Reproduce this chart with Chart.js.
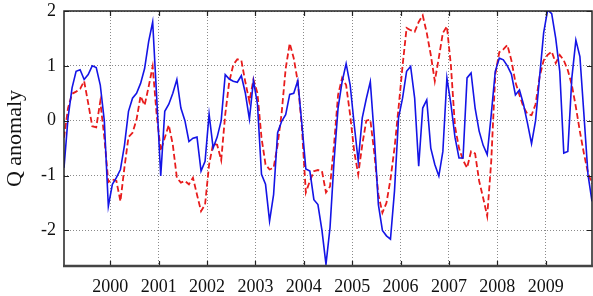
<!DOCTYPE html>
<html>
<head>
<meta charset="utf-8">
<script src="https://cdn.jsdelivr.net/npm/chart.js@4/dist/chart.umd.min.js"></script>
<style>
html,body{margin:0;padding:0;background:#fff;}
canvas{display:block;}
</style>
</head>
<body>
<canvas id="c" width="593" height="296"></canvas>
<script>
// Monthly series, Jan 1999 .. Dec 2009
const startYear = 1999;
const yearTicks = [2000, 2001, 2002, 2003, 2004, 2005, 2006, 2007, 2008, 2009];
const valueTicks = [-2, -1, 0, 1, 2];

const blueQ = [
  -0.86, 0.05, 0.60, 0.90, 0.93, 0.75, 0.84, 1.00, 0.97, 0.65, 0.00, -1.56,
  -1.16, -1.04, -0.89, -0.45, 0.17, 0.41, 0.50, 0.68, 0.95, 1.44, 1.80, 0.42,
  -1.01, 0.17, 0.30, 0.50, 0.75, 0.23, 0.00, -0.38, -0.32, -0.30, -0.92, -0.74,
  0.12, -0.50, -0.30, 0.00, 0.84, 0.76, 0.72, 0.70, 0.82, 0.50, 0.03, 0.73,
  0.30, -0.98, -1.16, -1.83, -1.35, -0.22, -0.01, 0.11, 0.48, 0.50, 0.73, -0.05,
  -0.88, -0.92, -1.44, -1.53, -2.00, -2.62, -1.95, -0.74, 0.23, 0.71, 1.04, 0.65,
  -0.07, -0.74, 0.05, 0.40, 0.71, -0.31, -1.53, -2.00, -2.10, -2.16, -1.28, 0.05,
  0.41, 0.90, 0.99, 0.41, -0.83, 0.23, 0.38, -0.50, -0.80, -1.01, -0.56, 0.78,
  0.30, -0.30, -0.68, -0.68, 0.78, 0.87, 0.23, -0.19, -0.45, -0.62, 0.11, 0.90,
  1.14, 1.11, 1.00, 0.85, 0.47, 0.56, 0.30, -0.05, -0.42, 0.00, 0.80, 1.60,
  2.02, 1.95, 1.50, 0.90, -0.59, -0.56, 0.78, 1.47, 1.17, 0.11, -0.98, -1.47
];

const redQ = [
  -0.31, 0.23, 0.49, 0.53, 0.58, 0.72, 0.32, -0.10, -0.12, 0.35, -0.30, -1.12,
  -1.07, -1.10, -1.47, -0.85, -0.30, -0.22, 0.02, 0.45, 0.28, 0.62, 0.99, 0.10,
  -0.55, -0.31, -0.08, -0.44, -1.04, -1.13, -1.10, -1.16, -1.04, -1.35, -1.65, -1.53,
  -0.80, -0.42, -0.44, -0.72, 0.11, 0.71, 1.02, 1.12, 1.10, 0.70, 0.35, 0.75,
  0.50, -0.31, -0.80, -0.89, -0.86, -0.44, 0.14, 0.95, 1.41, 1.14, 0.71, -0.10,
  -1.31, -1.10, -0.92, -0.90, -0.92, -1.31, -1.20, -0.44, 0.47, 0.78, 0.65, 0.10,
  -0.56, -0.98, -0.44, 0.00, 0.02, -0.60, -1.35, -1.68, -1.50, -1.07, -0.50, 0.23,
  1.00, 1.69, 1.65, 1.62, 1.80, 1.92, 1.60, 1.20, 0.72, 1.15, 1.60, 1.72,
  1.00, -0.10, -0.50, -0.72, -0.86, -0.56, -0.60, -1.10, -1.41, -1.74, -0.74, 0.84,
  1.25, 1.30, 1.38, 1.10, 0.70, 0.47, 0.25, 0.12, 0.10, 0.30, 0.80, 1.10,
  1.20, 1.26, 1.05, 1.20, 1.10, 0.92, 0.65, 0.25, -0.20, -0.60, -0.95, -1.15
];

const months = blueQ.map((_, i) => startYear + (i + 0.5) / 12);

const FONT = "'Liberation Serif', 'DejaVu Serif', serif";

const framePlugin = {
  id: 'frame',
  afterDraw(chart) {
    const { ctx, chartArea: a, scales: { x, y } } = chart;
    ctx.save();
    ctx.strokeStyle = '#222';
    ctx.lineWidth = 1.2;
    ctx.beginPath();
    yearTicks.forEach(v => {
      const px = Math.round(x.getPixelForValue(v)) + 0.5;
      ctx.moveTo(px, a.bottom); ctx.lineTo(px, a.bottom - 5);
      ctx.moveTo(px, a.top); ctx.lineTo(px, a.top + 5);
    });
    valueTicks.forEach(v => {
      const py = Math.round(y.getPixelForValue(v)) + 0.5;
      ctx.moveTo(a.left, py); ctx.lineTo(a.left + 5, py);
      ctx.moveTo(a.right, py); ctx.lineTo(a.right - 5, py);
    });
    ctx.stroke();
    ctx.lineWidth = 1.5;
    ctx.strokeStyle = '#222';
    ctx.strokeRect(a.left, a.top, a.right - a.left, a.bottom - a.top);
    ctx.lineWidth = 2.5;
    ctx.strokeStyle = '#444';
    ctx.beginPath();
    ctx.moveTo(a.left - 1, a.bottom); ctx.lineTo(a.right + 1, a.bottom);
    ctx.stroke();
    ctx.restore();
  }
};

new Chart(document.getElementById('c'), {
  type: 'line',
  data: {
    datasets: [
      {
        label: 'blue',
        data: months.map((m, i) => ({ x: m, y: blueQ[i] })),
        borderColor: '#1414e6',
        borderWidth: 1.6,
        pointRadius: 0,
        tension: 0,
        fill: false
      },
      {
        label: 'red',
        data: months.map((m, i) => ({ x: m, y: redQ[i] })),
        borderColor: '#e81c1c',
        borderWidth: 1.8,
        borderDash: [6, 3],
        pointRadius: 0,
        tension: 0,
        fill: false
      }
    ]
  },
  options: {
    responsive: false,
    animation: false,
    devicePixelRatio: 1,
    layout: { padding: { top: 11, right: 1, left: 0, bottom: 0 } },
    plugins: { legend: { display: false }, tooltip: { enabled: false } },
    scales: {
      x: {
        type: 'linear',
        min: months[0],
        max: months[months.length - 1],
        afterBuildTicks: s => { s.ticks = yearTicks.map(v => ({ value: v })); },
        afterFit: s => { s.height = 30; s.paddingLeft = 0; s.paddingRight = 0; },
        grid: { color: '#8a8a8a', lineWidth: 1, drawTicks: false },
        border: { display: false, dash: [1, 2] },
        ticks: {
          color: '#111',
          font: { family: FONT, size: 18 },
          padding: 10,
          maxRotation: 0,
          autoSkip: false,
          callback: v => String(v)
        }
      },
      y: {
        min: -2.65,
        max: 2,
        afterBuildTicks: s => { s.ticks = valueTicks.map(v => ({ value: v })); },
        afterFit: s => { s.width = 64; s.paddingTop = 0; s.paddingBottom = 0; },
        grid: { color: '#8a8a8a', lineWidth: 1, drawTicks: false },
        border: { display: false, dash: [1, 2] },
        title: {
          display: true,
          text: 'Q anomaly',
          color: '#111',
          font: { family: FONT, size: 22 },
          padding: { top: 2, bottom: 4 }
        },
        ticks: {
          color: '#111',
          font: { family: FONT, size: 18 },
          padding: 8,
          callback: v => String(v)
        }
      }
    }
  },
  plugins: [framePlugin]
});
</script>
</body>
</html>
